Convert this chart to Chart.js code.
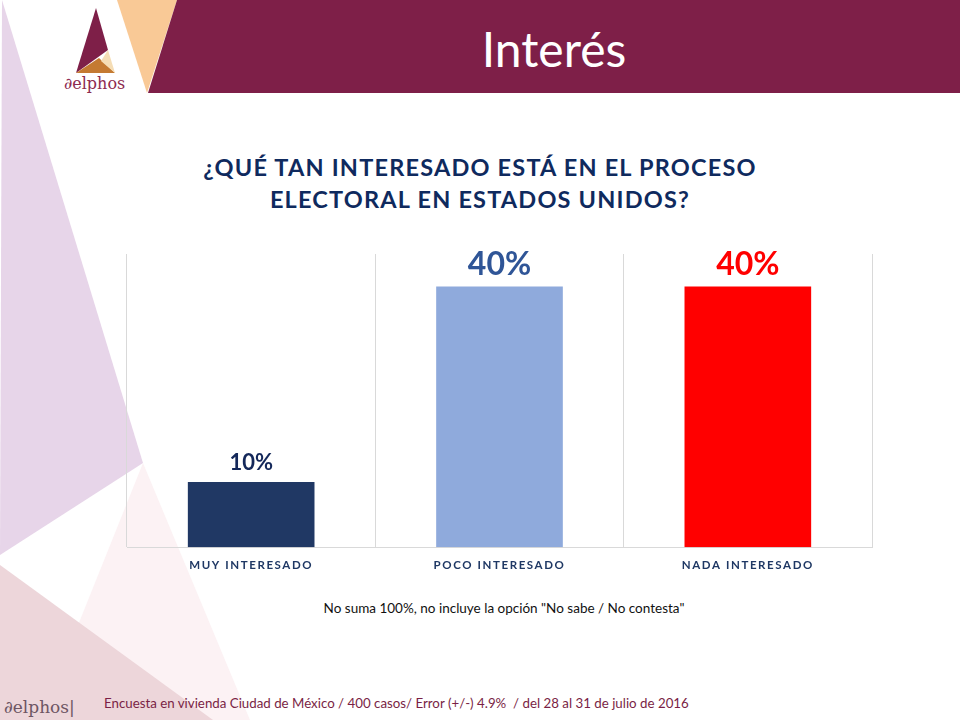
<!DOCTYPE html>
<html>
<head>
<meta charset="utf-8">
<script src="https://cdn.jsdelivr.net/npm/chart.js@4.4.1/dist/chart.umd.min.js"></script>
<style>
  html, body { margin: 0; padding: 0; }
  body { width: 960px; height: 720px; position: relative; overflow: hidden; background: #ffffff; font-family: Lato, "Open Sans", sans-serif; }
  #bg { position: absolute; left: 0; top: 0; }
  .txt { position: absolute; white-space: nowrap; }
  #slideTitle { left: 148px; width: 812px; top: 19px; text-align: center; color: #ffffff; font-size: 48px; line-height: 60px; }
  #question { left: 0; width: 960px; top: 151px; text-align: center; color: #0F2A5E; font-size: 23.5px; font-weight: bold; line-height: 32px; letter-spacing: 1.2px; }
  #note { left: 254px; width: 500px; top: 600px; text-align: center; color: #111111; font-family: Lato, sans-serif; font-size: 13.5px; line-height: 16px; }
  #source { left: 104px; top: 694px; color: #7A1F45; font-size: 13.3px; line-height: 18px; }
  #logoTop { left: 64px; top: 73px; color: #8E2A50; font-family: "DejaVu Serif", "Liberation Serif", serif; font-size: 16px; line-height: 22px; }
  #logoBottom { left: 4px; top: 696px; color: #6E5563; font-family: "DejaVu Serif", "Liberation Serif", serif; font-size: 17px; line-height: 22px; }
  #wrap { position: absolute; left: 100px; top: 230px; }
</style>
</head>
<body>
<svg id="bg" width="960" height="720">
  <polygon points="2,0 143,463 0,555" fill="#E7D5E9"/>
  <polygon points="143,463 40,720 250,720" fill="#FCF2F4"/>
  <polygon points="0,565 213,720 0,720" fill="#EDD6DA"/>
  <polygon points="117,0 177,0 147,93" fill="#F9C996"/>
  <polygon points="177,0 960,0 960,93 148,93" fill="#7E1F48"/>
  <!-- logo -->
  <polygon points="96,8 76,73 108,50" fill="#7E1F48"/>
  <polygon points="76,73 115,73 99,58" fill="#C47A32"/>
  <polygon points="108,50 115,73 101,61" fill="#F5DDB5"/>
</svg>
<div class="txt" id="slideTitle">Interés</div>
<div class="txt" id="logoTop">∂elphos</div>
<div class="txt" id="question">¿QUÉ TAN INTERESADO ESTÁ EN EL PROCESO<br>ELECTORAL EN ESTADOS UNIDOS?</div>
<div id="wrap"><canvas id="barChart" width="800" height="363"></canvas></div>
<div class="txt" id="note">No suma 100%, no incluye la opción "No sabe / No contesta"</div>
<div class="txt" id="logoBottom">∂elphos|</div>
<div class="txt" id="source">Encuesta en vivienda Ciudad de México / 400 casos/ Error (+/-) 4.9% &nbsp;/ del 28 al 31 de julio de 2016</div>

<script>
// datos de la gráfica
var categories = ['MUY INTERESADO', 'POCO INTERESADO', 'NADA INTERESADO'];
var values = [10, 40, 40];
var barColors = ['#203864', '#8FAADC', '#FF0000'];
var labelColors = ['#14285A', '#2F5597', '#FF0000'];
var labelSizes = [22, 32, 32];

// etiquetas de valor encima de cada barra
var valueLabels = {
	id : 'valueLabels',
	beforeDraw : function(chart) {
		chart.ctx.letterSpacing = '1.6px'; // espaciado de las categorías
	},
	afterDatasetsDraw : function(chart) {
		var ctx = chart.ctx;
		var meta = chart.getDatasetMeta(0);
		ctx.save();
		ctx.letterSpacing = '0px';
		ctx.textAlign = 'center';
		ctx.textBaseline = 'alphabetic';
		meta.data.forEach(function(bar, i) {
			ctx.font = 'bold ' + labelSizes[i] + 'px Lato, "Open Sans", sans-serif';
			ctx.fillStyle = labelColors[i];
			ctx.fillText(values[i] + '%', bar.x, bar.y - 12);
		});
		ctx.restore();
	}
};

var ctx = document.getElementById('barChart').getContext('2d');
var barChart = new Chart(ctx, {
	type : 'bar',
	data : {
		labels : categories,
		datasets : [ {
			data : values,
			backgroundColor : barColors,
			borderWidth : 0,
			categoryPercentage : 1,
			barPercentage : 0.51
		} ]
	},
	options : {
		responsive : false,
		animation : false,
		layout : {
			padding : { left : 27, right : 28, top : 24, bottom : 10 }
		},
		plugins : {
			legend : { display : false },
			tooltip : { enabled : false }
		},
		scales : {
			x : {
				grid : { color : '#D9D9D9', offset : true, drawTicks : false },
				border : { color : '#D9D9D9' },
				ticks : {
					color : '#1F3864',
					padding : 11,
					maxRotation : 0,
					minRotation : 0,
					font : { family : 'Lato, "Open Sans", sans-serif', size : 11.5, weight : 'bold' }
				}
			},
			y : {
				display : false,
				min : 0,
				max : 45
			}
		}
	},
	plugins : [ valueLabels ]
});
</script>
</body>
</html>
